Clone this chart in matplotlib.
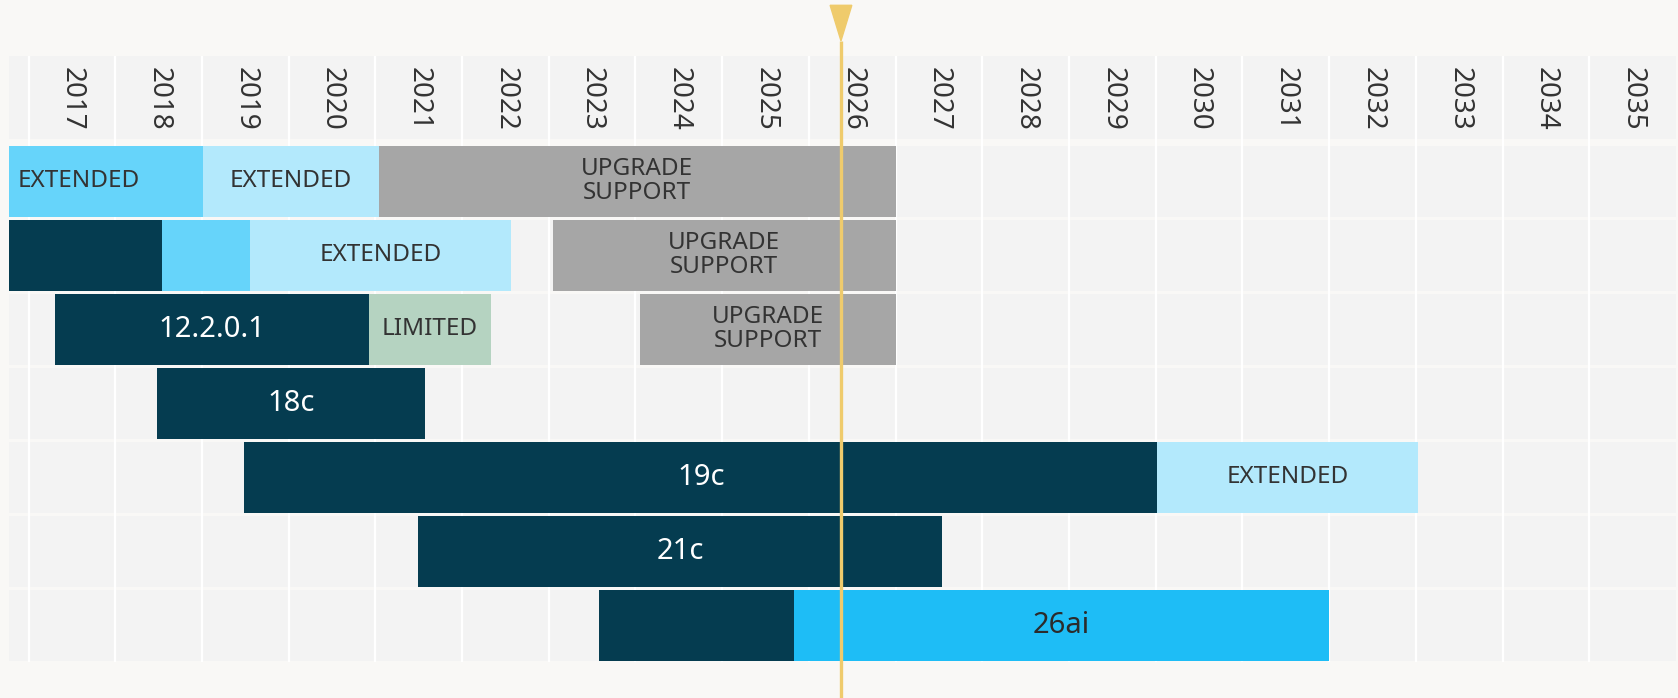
import matplotlib.pyplot as plt
from matplotlib.patches import Polygon

plt.rcParams['font.family'] = ['Noto Sans', 'DejaVu Sans']

# year columns shown in the header
years = list(range(2017, 2036))
x_min, x_max = 2016.77, 2036.0
today = 2026.37

# one entry per bar segment (row 0 = top row)
seg_row = [0, 0, 0,
           1, 1, 1, 1,
           2, 2, 2,
           3,
           4, 4,
           5,
           6, 6]
seg_start = [2016.14, 2019.01, 2021.04,
             2015.50, 2018.54, 2019.56, 2023.05,
             2017.31, 2020.93, 2024.05,
             2018.48,
             2019.49, 2030.02,
             2021.49,
             2023.58, 2025.83]
seg_end = [2019.01, 2021.04, 2027.00,
           2018.54, 2019.56, 2022.57, 2027.00,
           2020.93, 2022.33, 2027.00,
           2021.57,
           2030.02, 2033.02,
           2027.54,
           2025.83, 2032.00]
seg_kind = ['ext1', 'ext2', 'upgrade',
            'premier', 'ext1', 'ext2', 'upgrade',
            'premier', 'limited', 'upgrade',
            'premier',
            'premier', 'ext2',
            'premier',
            'premier', 'new']
seg_label = ['EXTENDED', 'EXTENDED', 'UPGRADE\nSUPPORT',
             '', '', 'EXTENDED', 'UPGRADE\nSUPPORT',
             '12.2.0.1', 'LIMITED', 'UPGRADE\nSUPPORT',
             '18c',
             '19c', 'EXTENDED',
             '21c',
             '', '26ai']
n_rows = 7

kind_color = {'premier': '#053c50', 'ext1': '#66d4fa', 'ext2': '#b3e9fc',
              'upgrade': '#a6a6a6', 'limited': '#b5d3c1', 'new': '#1ebdf6'}
big_text = {'premier': ('white', 21), 'new': ('#2b2b2b', 21)}

bg = '#f9f8f6'
cell = '#f3f3f3'
txt = '#333333'
gold = '#efcb6c'

fig = plt.figure(figsize=(16.78, 6.98), dpi=100, facecolor=bg)
ax = fig.add_axes([0.0051, 0.0509, 0.9937, 0.8694])
ax.set_facecolor('white')
ax.set_xlim(x_min, x_max)
ax.set_ylim(7.0, -1.20)
ax.axis('off')
ax.patch.set_visible(True)

# header band and row bands
ax.add_patch(plt.Rectangle((x_min, -1.20), x_max - x_min, 1.13, color=cell, zorder=1, lw=0))
for r in range(n_rows):
    ax.add_patch(plt.Rectangle((x_min, r + 0.02), x_max - x_min, 0.955, color=cell, zorder=1, lw=0))

# white column separators
for y in years:
    ax.axvline(y, color='white', lw=1.6, zorder=2)

# year labels
for y in years:
    ax.text(y + 0.5, -1.04, str(y), rotation=270, ha='center', va='top',
            fontsize=20, color=txt, zorder=3)

# bars
for r, s, e, k, lab in zip(seg_row, seg_start, seg_end, seg_kind, seg_label):
    ax.barh(r + 0.4975, e - s, left=s, height=0.955, color=kind_color[k], lw=0, zorder=4)
    if lab:
        col, fs = big_text.get(k, (txt, 17.5))
        cx = (s + e) / 2
        ax.text(cx, r + 0.5, lab, ha='center', va='center', fontsize=fs,
                color=col, linespacing=1.0, zorder=5, clip_on=True)

# today marker
ax.plot([today, today], [-1.40, 7.48], color=gold, lw=2.4, zorder=6, clip_on=False,
        solid_capstyle='butt')
tri = Polygon([[today - 0.125, -1.88], [today + 0.125, -1.88], [today, -1.40]],
              closed=True, color=gold, zorder=6, clip_on=False)
ax.add_patch(tri)

fig.savefig('out.png', dpi=100, facecolor=bg)
